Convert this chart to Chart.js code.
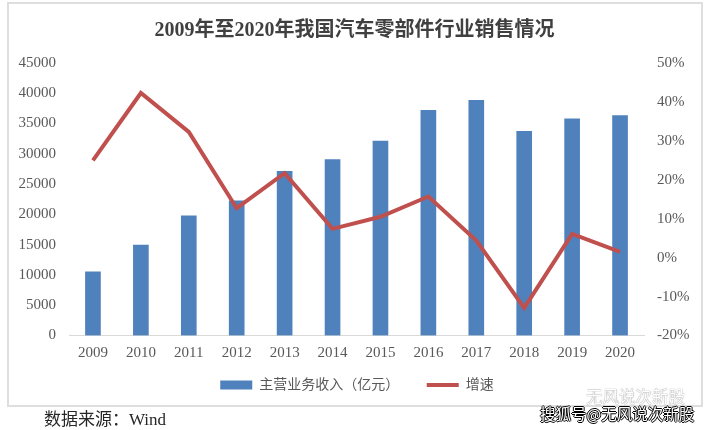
<!DOCTYPE html>
<html>
<head>
<meta charset="utf-8">
<script src="https://cdn.jsdelivr.net/npm/chart.js@4"></script>
<style>
  html, body { margin: 0; padding: 0; background: #fff; }
  #wrap { position: relative; width: 708px; height: 430px; overflow: hidden; font-family: "Liberation Serif", "Noto Sans CJK SC", serif; }
  #frame { position: absolute; left: 7px; top: 2px; width: 692px; height: 401px; border: 2px solid #dedede; }
  canvas { position: absolute; left: 0; top: 0; }
  #source { position: absolute; left: 44px; top: 410px; font-size: 17px; line-height: 20px; color: #262626; }
  #markFaint { position: absolute; left: 586px; top: 389px; font-size: 16.5px; line-height: 18px; color: #fff; text-shadow: 0 0 1px #555; }
  #mark { position: absolute; left: 540px; top: 404px; font-size: 15.5px; line-height: 18px; color: #fff; font-family: "Noto Sans CJK SC", sans-serif;
    text-shadow: -1px 0 0 #000, 1px 0 0 #000, 0 -1px 0 #000, 0 1px 0 #000; }
</style>
</head>
<body>
<div id="wrap">
  <div id="frame"></div>
  <canvas id="salesChart" width="708" height="430"></canvas>
  <div id="source">数据来源：Wind</div>
  <div id="markFaint">无风说次新股</div>
  <div id="mark">搜狐号@无风说次新股</div>
</div>
<script>
  // Dữ liệu
  const years = ['2009', '2010', '2011', '2012', '2013', '2014', '2015', '2016', '2017', '2018', '2019', '2020'];
  const revenue = [10520, 14950, 19750, 22240, 27100, 29040, 32120, 37200, 38820, 33730, 35770, 36330];
  const growth = [25, 42.3, 32.3, 12.7, 21.7, 7.4, 10.5, 15.7, 4.4, -12.9, 6.1, 1.5];
  const chartTitle = '2009年至2020年我国汽车零部件行业销售情况';
  const revenueLabel = '主营业务收入（亿元）';
  const growthLabel = '增速';

  const textColor = '#595959';
  const fontFamily = '"Liberation Serif", "Noto Sans CJK SC", serif';
  const tickFont = { family: fontFamily, size: 15 };

  const ctx = document.getElementById('salesChart').getContext('2d');
  new Chart(ctx, {
    data: {
      labels: years,
      datasets: [
        {
          type: 'line',
          label: growthLabel,
          data: growth,
          yAxisID: 'y1',
          order: 0,
          borderColor: '#c0504d',
          backgroundColor: '#c0504d',
          borderWidth: 4,
          pointRadius: 0,
          tension: 0
        },
        {
          type: 'bar',
          label: revenueLabel,
          data: revenue,
          yAxisID: 'y',
          order: 1,
          backgroundColor: '#4f81bd',
          barThickness: 15
        }
      ]
    },
    options: {
      responsive: false,
      animation: false,
      // lệch 3px sang phải để chú thích nằm đúng chỗ
      layout: { padding: { left: 11, right: 5, top: 6, bottom: 28 } },
      plugins: {
        title: {
          display: true,
          // khoảng trắng cuối kéo tiêu đề về giữa khung
          text: chartTitle + '\u2005',
          color: '#404040',
          font: { family: fontFamily, size: 20, weight: 'bold' },
          padding: { top: 13, bottom: 20 }
        },
        legend: {
          position: 'bottom',
          labels: {
            color: textColor,
            font: { family: fontFamily, size: 14 },
            usePointStyle: true,
            pointStyleWidth: 32,
            padding: 6.5,
            // bar đứng trước line trong chú thích, thêm khoảng trắng để giãn hai mục
            generateLabels(chart) {
              return [
                { text: revenueLabel + '\u2003\u2002', pointStyle: 'line', strokeStyle: '#4f81bd', fillStyle: '#4f81bd', lineWidth: 9, fontColor: textColor, datasetIndex: 1 },
                { text: growthLabel, pointStyle: 'line', strokeStyle: '#c0504d', fillStyle: '#c0504d', lineWidth: 4, fontColor: textColor, datasetIndex: 0 }
              ];
            }
          }
        },
        tooltip: { enabled: false }
      },
      scales: {
        x: {
          grid: { display: false, drawTicks: false },
          border: { color: '#d9d9d9', width: 1 },
          ticks: { color: textColor, font: tickFont, padding: 9, maxRotation: 0 }
        },
        y: {
          position: 'left',
          min: 0,
          max: 45000,
          afterFit: scale => { scale.width = 58; },
          grid: { display: false, drawTicks: false },
          border: { display: false },
          ticks: { stepSize: 5000, color: textColor, font: tickFont, padding: 13, callback: value => String(value) }
        },
        y1: {
          position: 'right',
          min: -20,
          max: 50,
          afterFit: scale => { scale.width = 59; },
          grid: { display: false, drawTicks: false },
          border: { display: false },
          ticks: { stepSize: 10, color: textColor, font: tickFont, padding: 13, callback: value => value + '%' }
        }
      }
    }
  });
</script>
</body>
</html>
